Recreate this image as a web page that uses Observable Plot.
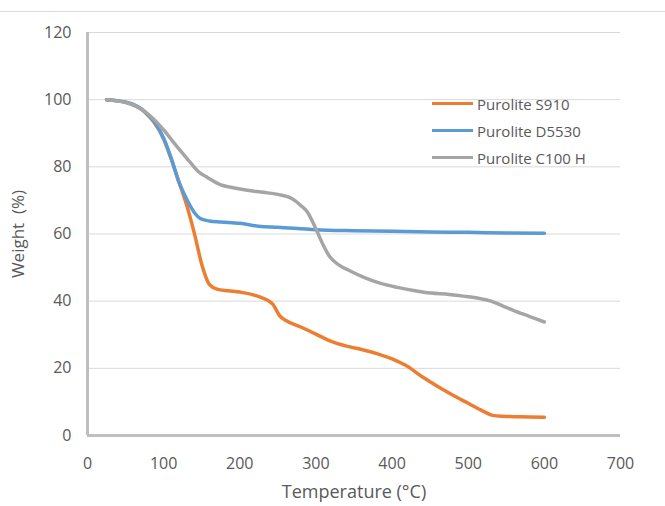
<!DOCTYPE html>
<html>
<head>
<meta charset="utf-8">
<script src="https://cdn.jsdelivr.net/npm/d3@7"></script>
<script src="https://cdn.jsdelivr.net/npm/@observablehq/plot@0.6"></script>
<style>
  html, body { margin: 0; padding: 0; background: #fff; }
  #wrap { position: relative; width: 665px; height: 506px; overflow: hidden; font-family: "Open Sans", sans-serif; }
  #topline { position: absolute; left: 0; top: 11px; width: 665px; height: 0; border-top: 1px solid #d9d9d9; }
  #legend { position: absolute; left: 432px; top: 90px; font-size: 15px; color: #595959; }
  .row { display: flex; align-items: center; height: 27px; }
  .sw { width: 41px; height: 3px; margin-right: 4px; }
</style>
</head>
<body>
<div id="wrap">
  <div id="topline"></div>
  <div id="chart"></div>
  <div id="legend"></div>
</div>
<script>
const seriesNames = ["Purolite S910", "Purolite D5530", "Purolite C100 H"];
const seriesColors = ["#ED7D31", "#5B9BD5", "#A5A5A5"];

const s910Temp = [25, 50, 75, 100, 110, 120, 130, 140, 150, 160, 170, 185, 200, 227, 243, 253, 260, 280, 300, 320, 340, 360, 380, 400, 420, 440, 460, 480, 500, 520, 532, 545, 560, 580, 600];
const s910Weight = [100, 99.2, 96.3, 88.3, 82.3, 75.5, 68.8, 60.5, 51, 45, 43.6, 43.1, 42.7, 41.2, 39.2, 35.5, 34.3, 32.3, 30.2, 28.0, 26.6, 25.6, 24.4, 22.8, 20.6, 17.4, 14.6, 12.0, 9.6, 7.2, 6.0, 5.7, 5.6, 5.5, 5.4];

const d5530Temp = [25, 50, 75, 100, 110, 120, 130, 140, 150, 160, 175, 200, 225, 250, 300, 350, 400, 450, 500, 550, 600];
const d5530Weight = [100, 99.3, 96.5, 88.5, 82.5, 75.5, 70.5, 66.5, 64.4, 63.9, 63.6, 63.2, 62.3, 62.0, 61.3, 61.0, 60.8, 60.6, 60.5, 60.3, 60.2];

const c100Temp = [25, 50, 75, 87, 100, 113, 125, 135, 145, 157, 175, 188, 210, 231, 250, 267, 280, 289, 297, 302, 310, 318, 330, 345, 363, 385, 407, 430, 451, 475, 494, 515, 530, 545, 560, 580, 600];
const c100Weight = [100, 99.2, 96.5, 94.2, 91, 87.3, 84, 81.3, 78.7, 76.9, 74.6, 73.9, 73, 72.4, 71.8, 70.7, 68.5, 66.5, 63, 60.5, 56.5, 53.3, 50.8, 49, 47.1, 45.3, 44.1, 43.1, 42.4, 42, 41.5, 40.8, 40, 38.6, 37.2, 35.5, 33.8];

const xTicks = [0, 100, 200, 300, 400, 500, 600, 700];
const yTicks = [0, 20, 40, 60, 80, 100, 120];

const tables = [
  s910Temp.map((t, i) => ({t, w: s910Weight[i]})),
  d5530Temp.map((t, i) => ({t, w: d5530Weight[i]})),
  c100Temp.map((t, i) => ({t, w: c100Weight[i]}))
];

const chart = Plot.plot({
  width: 665,
  height: 506,
  marginLeft: 87,
  marginRight: 45,
  marginTop: 32,
  marginBottom: 71,
  style: { fontFamily: "Open Sans, sans-serif", fontSize: "16px", background: "transparent" },
  x: { domain: [0, 700], ticks: xTicks },
  y: { domain: [0, 120], ticks: yTicks },
  marks: [
    Plot.gridY(yTicks, { stroke: "#d9d9d9", strokeOpacity: 1, strokeWidth: 1 }),
    Plot.ruleX([0], { stroke: "#bfbfbf", strokeWidth: 3 }),
    Plot.ruleY([0], { stroke: "#bfbfbf", strokeWidth: 3 }),
    Plot.axisX(xTicks, { tickSize: 0, tickPadding: 22, fontSize: 16, color: "#595959", label: null }),
    Plot.axisY(yTicks, { tickSize: 0, tickPadding: 16, fontSize: 16, color: "#595959", label: null }),
    Plot.text(["Temperature (°C)"], { frameAnchor: "bottom", dy: 62, fontSize: 18, fill: "#595959", textAnchor: "middle" }),
    Plot.text(["Weight  (%)"], { frameAnchor: "left", dx: -69, rotate: -90, fontSize: 17, fill: "#595959", textAnchor: "middle" }),
    ...tables.map((d, i) => Plot.line(d, { x: "t", y: "w", stroke: seriesColors[i], strokeWidth: 3.5, curve: "monotone-x" }))
  ]
});
document.getElementById("chart").appendChild(chart);

const legend = document.getElementById("legend");
seriesNames.forEach((name, i) => {
  const row = document.createElement("div");
  row.className = "row";
  const sw = document.createElement("div");
  sw.className = "sw";
  sw.style.background = seriesColors[i];
  const lab = document.createElement("span");
  lab.textContent = name;
  row.appendChild(sw);
  row.appendChild(lab);
  legend.appendChild(row);
});
</script>
</body>
</html>
